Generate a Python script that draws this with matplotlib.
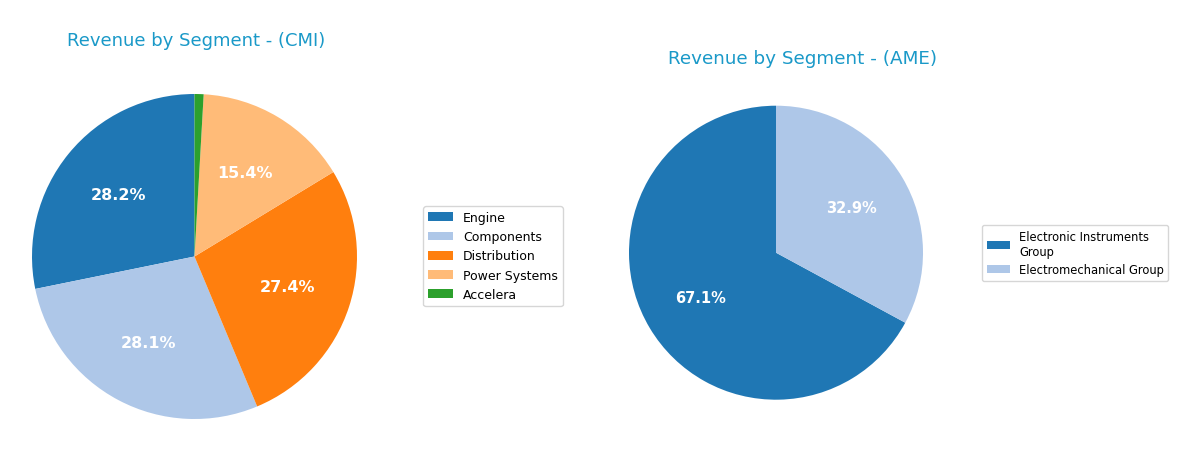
import matplotlib
matplotlib.use("Agg")
import matplotlib.pyplot as plt

cmi_segments = ["Engine", "Components", "Distribution", "Power Systems", "Accelera"]
cmi_values = [28.2, 28.1, 27.4, 15.4, 0.9]
cmi_colors = ["#1f77b4", "#aec7e8", "#ff7f0e", "#ffbb78", "#2ca02c"]

ame_segments = ["Electronic Instruments\nGroup", "Electromechanical Group"]
ame_values = [67.1, 32.9]
ame_colors = ["#1f77b4", "#aec7e8"]

title_color = "#1a99c8"
W, H = 1200, 452

fig = plt.figure(figsize=(12, 4.52), dpi=100)


def add_pie(cx, cy, r, values, colors, labels, lab_size, title, title_xy, title_size,
            leg_xy, leg_size):
    ax = fig.add_axes([(cx - r) / W, (H - cy - r) / H, 2 * r / W, 2 * r / H])
    wedges, texts, autotexts = ax.pie(
        values, colors=colors, startangle=90, counterclock=True,
        autopct=lambda p: f"{p:.1f}%" if p >= 2 else "",
        pctdistance=0.6,
        textprops=dict(color="white", fontsize=lab_size, fontweight="bold"))
    ax.set_xlim(-1, 1)
    ax.set_ylim(-1, 1)
    ax.set_aspect("equal")
    ax.axis("off")
    fig.text(title_xy[0] / W, 1 - title_xy[1] / H, title, ha="center", va="center",
             color=title_color, fontsize=title_size)
    fig.legend(wedges, labels, loc="center left",
               bbox_to_anchor=(leg_xy[0] / W, 1 - leg_xy[1] / H),
               fontsize=leg_size, frameon=True, borderaxespad=0)
    return ax


add_pie(194.5, 257.5, 162.5, cmi_values, cmi_colors, cmi_segments, 11.5,
        "Revenue by Segment - (CMI)", (196.5, 41), 13, (423, 257), 9)
add_pie(776, 253.7, 147, ame_values, ame_colors, ame_segments, 10.5,
        "Revenue by Segment - (AME)", (803, 59), 13.2, (982, 254), 8.3)

fig.savefig("out.png", dpi=100)
